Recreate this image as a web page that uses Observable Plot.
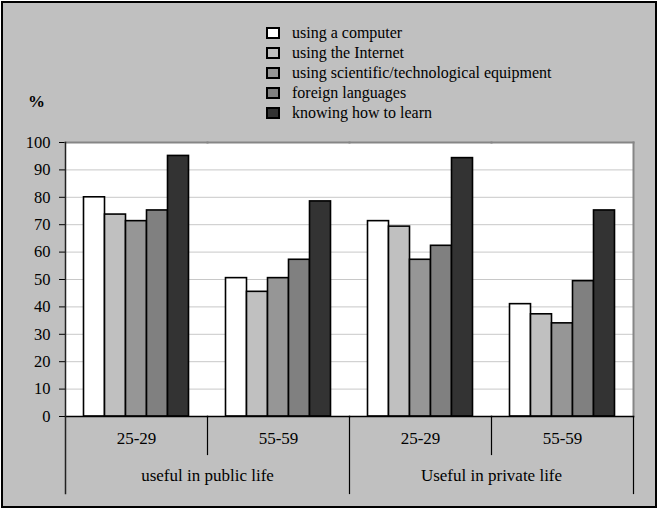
<!DOCTYPE html>
<html>
<head>
<meta charset="utf-8">
<script src="https://cdn.jsdelivr.net/npm/d3@7"></script>
<script src="https://cdn.jsdelivr.net/npm/@observablehq/plot@0.6"></script>
<style>
  html, body { margin: 0; padding: 0; background: #fff; }
  #fig { position: absolute; left: 1px; top: 1px; width: 652px; height: 503px; border: 2px solid #000; background: #c0c0c0; font-family: "Liberation Serif", "Times New Roman", serif; color: #000; overflow: hidden; }
  #legend { position: absolute; left: 263px; top: 20px; font-size: 16px; }
  #legend .row { height: 20px; line-height: 20px; white-space: nowrap; display: flex; align-items: center; }
  #legend .sw { width: 10px; height: 8px; border: 2px solid #000; margin-right: 12px; flex: none; }
  #pct { position: absolute; left: 25px; top: 89px; line-height: 20px; font-size: 17px; font-weight: bold; }
  #chart { position: absolute; left: 0; top: 87px; }
</style>
</head>
<body>
<div id="fig">
  <div id="legend"></div>
  <div id="pct">%</div>
  <div id="chart"></div>
</div>
<script>
// ---- data ----
const series = ["using a computer", "using the Internet", "using scientific/technological equipment", "foreign languages", "knowing how to learn"];
const seriesColors = ["#ffffff", "#c0c0c0", "#969696", "#808080", "#333333"];
const contexts = ["useful in public life", "Useful in private life"];
const ages = ["25-29", "55-59"];
// values in order: public 25-29, public 55-59, private 25-29, private 55-59
const computerValues = [80, 50.5, 71.3, 41];
const internetValues = [73.7, 45.5, 69.3, 37.3];
const scientificValues = [71.3, 50.5, 57.2, 34];
const languageValues = [75.2, 57.2, 62.3, 49.4];
const learnValues = [95.1, 78.5, 94.3, 75.2];
const yTicks = [0, 10, 20, 30, 40, 50, 60, 70, 80, 90, 100];

// ---- build table ----
const seriesValues = [computerValues, internetValues, scientificValues, languageValues, learnValues];
const groups = [];
contexts.forEach(c => ages.forEach(a => groups.push({key: c + "|" + a, context: c, age: a})));
const rows = [];
series.forEach((s, si) => groups.forEach((g, gi) => rows.push({key: g.key, series: s, value: seriesValues[si][gi]})));
const contextRows = contexts.map(c => ({key: c + "|" + ages[0], context: c}));
const groupKeys = groups.map(g => g.key);

// ---- legend ----
const legend = document.getElementById("legend");
series.forEach((s, i) => {
  const row = document.createElement("div");
  row.className = "row";
  const sw = document.createElement("span");
  sw.className = "sw";
  sw.style.background = seriesColors[i];
  const t = document.createElement("span");
  t.textContent = s;
  row.appendChild(sw); row.appendChild(t);
  legend.appendChild(row);
});

// ---- chart ----
const plotH = 274;
const chart = Plot.plot({
  width: 652,
  height: 416,
  marginLeft: 60.5,
  marginRight: 20.7,
  marginTop: 52,
  marginBottom: 90,
  style: {background: "transparent", fontFamily: "Liberation Serif, Times New Roman, serif", fontSize: "16.5px", color: "#000"},
  fx: {domain: groupKeys, padding: 0, axis: null},
  x: {domain: series, paddingInner: 0, paddingOuter: 0.83, axis: null},
  y: {domain: [0, 100], ticks: yTicks, tickSize: 6, tickPadding: 9, label: null, tickFormat: d => String(d)},
  color: {domain: series, range: seriesColors},
  marks: [
    Plot.frame({fill: "#ffffff", stroke: "none", shapeRendering: "crispEdges"}),
    Plot.gridY(yTicks, {stroke: "#c8c8c8", strokeOpacity: 1, strokeWidth: 1}),
    Plot.barY(rows, {fx: "key", x: "series", y: "value", fill: "series", stroke: "#000", strokeWidth: 1.6}),
    Plot.frame({anchor: "top", stroke: "#868686", strokeWidth: 2}),
    Plot.frame({fx: groupKeys[groupKeys.length - 1], anchor: "right", stroke: "#868686", strokeWidth: 2}),
    Plot.frame({anchor: "bottom", stroke: "#000", strokeWidth: 1.5}),
    // separators below the axis
    Plot.frame({fx: groupKeys[1], anchor: "left", stroke: "#000", strokeWidth: 1.2, insetTop: plotH, insetBottom: -38}),
    Plot.frame({fx: groupKeys[3], anchor: "left", stroke: "#000", strokeWidth: 1.2, insetTop: plotH, insetBottom: -38}),
    Plot.frame({fx: groupKeys[2], anchor: "left", stroke: "#000", strokeWidth: 1.2, insetTop: plotH, insetBottom: -77}),
    Plot.frame({fx: groupKeys[3], anchor: "right", stroke: "#000", strokeWidth: 1.2, insetTop: plotH, insetBottom: -77}),
    Plot.frame({fx: groupKeys[0], anchor: "left", stroke: "#222", strokeWidth: 1.5, insetBottom: -77}),
    Plot.text(groups, {fx: "key", text: "age", frameAnchor: "bottom", dy: 27, fontSize: 17}),
    Plot.text(contextRows, {fx: "key", text: "context", frameAnchor: "bottom-right", textAnchor: "middle", dy: 64, fontSize: 17})
  ]
});
document.getElementById("chart").appendChild(chart);
</script>
</body>
</html>
